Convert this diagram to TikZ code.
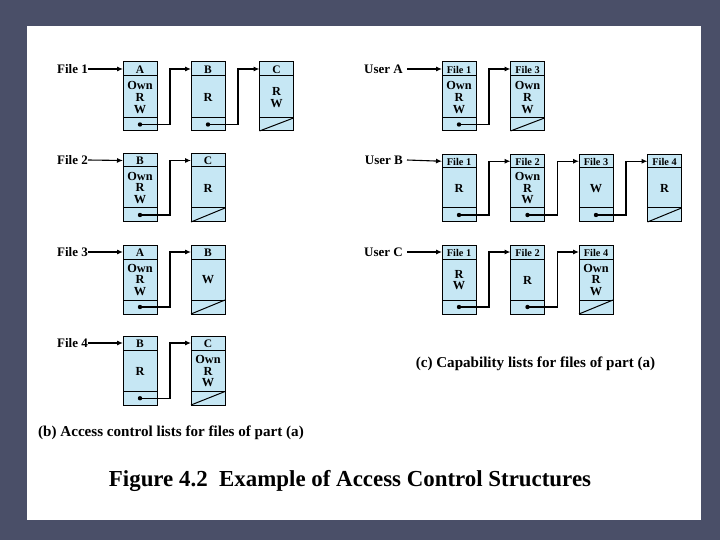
\documentclass[tikz,border=0pt]{standalone}
\usepackage{fontspec}
\setmainfont{Liberation Serif}
\usetikzlibrary{arrows.meta,calc}
\definecolor{framebg}{RGB}{74,79,104}
\definecolor{cellfill}{RGB}{198,231,244}
\tikzset{
  cellbox/.style={draw=black,fill=cellfill,line width=1pt,minimum width=34pt,inner sep=0pt,outer sep=0pt,anchor=north west},
  cellline/.style={draw=black,line width=1pt},
  hdrtext/.style={font=\fontsize{11.5}{12}\selectfont\bfseries,inner sep=0pt},
  hdrsmall/.style={font=\fontsize{10.3}{11}\selectfont\bfseries,inner sep=0pt},
  bodytext/.style={font=\fontsize{12.3}{11.7}\selectfont\bfseries,align=center,inner sep=0pt},
  link/.style={draw=black,line width=1.1pt,-{Latex[length=6pt,width=5pt]}},
  lbl/.style={font=\fontsize{13}{14}\selectfont\bfseries,inner sep=0pt},
  captext/.style={font=\fontsize{15.1}{16}\selectfont\bfseries,inner sep=0pt},
}
% #1 name, #2 x left, #3 top, #4 header bottom, #5 body bottom, #6 bottom, #7 header style, #8 header text, #9 body text
\newcommand\acell[9]{%
  \node[cellbox,minimum height={#6-#3}] (#1) at (#2,#3) {};
  \draw[cellline] (#2,#4) -- ++(34,0);
  \draw[cellline] (#2,#5) -- ++(34,0);
  \node[#7] (#1h) at ({#2+17},{(#3+#4)/2+0.5}) {#8};
  \node[bodytext] (#1b) at ({#2+17},{(#4+#5)/2+0.5}) {#9};
  \coordinate (#1in) at (#2,{(#3+#4)/2});
  \coordinate (#1p) at ({#2+17},{(#5+#6)/2});
}
\newcommand\anull[3]{\draw[cellline] (#1,#3) -- ({#1+34},#2);}% x, body bottom, bottom
\newcommand\aptr[2]{%
  \fill (#1p) circle (2.2pt);
  \draw[link] (#1p) -- ++(30,0) |- (#2in);}
\begin{document}
\begin{tikzpicture}[x=1pt,y=-1pt]
\fill[framebg] (0,0) rectangle (720,540);
\fill[white] (27,26) rectangle (701,520);
\useasboundingbox (0,0) rectangle (720,540);

% ---------- (b) access control lists ----------
% row 1
\node[lbl,anchor=east] (lf1) at (88,69) {File 1};
\acell{a11}{123}{62}{76}{118}{131}{hdrtext}{A}{Own\\R\\W}
\acell{a12}{191}{62}{76}{118}{131}{hdrtext}{B}{R}
\acell{a13}{259.5}{62}{76}{118}{131}{hdrtext}{C}{R\\W}
\draw[link] (lf1.east) -- (a11in);
\aptr{a11}{a12}
\aptr{a12}{a13}
\anull{259.5}{118}{131}
% row 2
\node[lbl,anchor=east] (lf2) at (88,160) {File 2};
\acell{a21}{123}{154}{167}{208}{222}{hdrtext}{B}{Own\\R\\W}
\acell{a22}{191}{154}{167}{208}{222}{hdrtext}{C}{R}
\draw[link] (lf2.east) -- (a21in);
\aptr{a21}{a22}
\anull{191}{208}{222}
% row 3
\node[lbl,anchor=east] (lf3) at (88,252) {File 3};
\acell{a31}{123}{245}{259}{300}{314}{hdrtext}{A}{Own\\R\\W}
\acell{a32}{191}{245}{259}{300}{314}{hdrtext}{B}{W}
\draw[link] (lf3.east) -- (a31in);
\aptr{a31}{a32}
\anull{191}{300}{314}
% row 4
\node[lbl,anchor=east] (lf4) at (88,343) {File 4};
\acell{a41}{123}{336}{350}{391.5}{405}{hdrtext}{B}{R}
\acell{a42}{191}{336}{350}{391.5}{405}{hdrtext}{C}{Own\\R\\W}
\draw[link] (lf4.east) -- (a41in);
\aptr{a41}{a42}
\anull{191}{391.5}{405}

% ---------- (c) capability lists ----------
% user A
\node[lbl,anchor=east] (ua) at (403,69) {User A};
\acell{c11}{442}{62}{76}{118}{131}{hdrsmall}{File 1}{Own\\R\\W}
\acell{c12}{510.5}{62}{76}{118}{131}{hdrsmall}{File 3}{Own\\R\\W}
\draw[link] ([xshift=4pt]ua.east) -- (c11in);
\aptr{c11}{c12}
\anull{510.5}{118}{131}
% user B
\node[lbl,anchor=east] (ub) at (403,160) {User B};
\acell{c21}{442}{155}{167.5}{208}{222}{hdrsmall}{File 1}{R}
\acell{c22}{510.5}{155}{167.5}{208}{222}{hdrsmall}{File 2}{Own\\R\\W}
\acell{c23}{579}{155}{167.5}{208}{222}{hdrsmall}{File 3}{W}
\acell{c24}{647.5}{155}{167.5}{208}{222}{hdrsmall}{File 4}{R}
\draw[link] ([xshift=4pt]ub.east) -- (c21in);
\aptr{c21}{c22}
\aptr{c22}{c23}
\aptr{c23}{c24}
\anull{647.5}{208}{222}
% user C
\node[lbl,anchor=east] (uc) at (403,252) {User C};
\acell{c31}{442}{245}{259}{300}{314}{hdrsmall}{File 1}{R\\W}
\acell{c32}{510.5}{245}{259}{300}{314}{hdrsmall}{File 2}{R}
\acell{c33}{579}{245}{259}{300}{314}{hdrsmall}{File 4}{Own\\R\\W}
\draw[link] ([xshift=4pt]uc.east) -- (c31in);
\aptr{c31}{c32}
\aptr{c32}{c33}
\anull{579}{300}{314}

% ---------- captions ----------
\node[captext] (capc) at (535.5,364) {(c) Capability lists for files of part (a)};
\node[captext] (capb) at (171,433) {(b) Access control lists for files of part (a)};
\node[font=\fontsize{22.9}{24}\selectfont\bfseries,inner sep=0pt] (title) at (350,481) {Figure 4.2\ \ Example of Access Control Structures};
\end{tikzpicture}
\end{document}
